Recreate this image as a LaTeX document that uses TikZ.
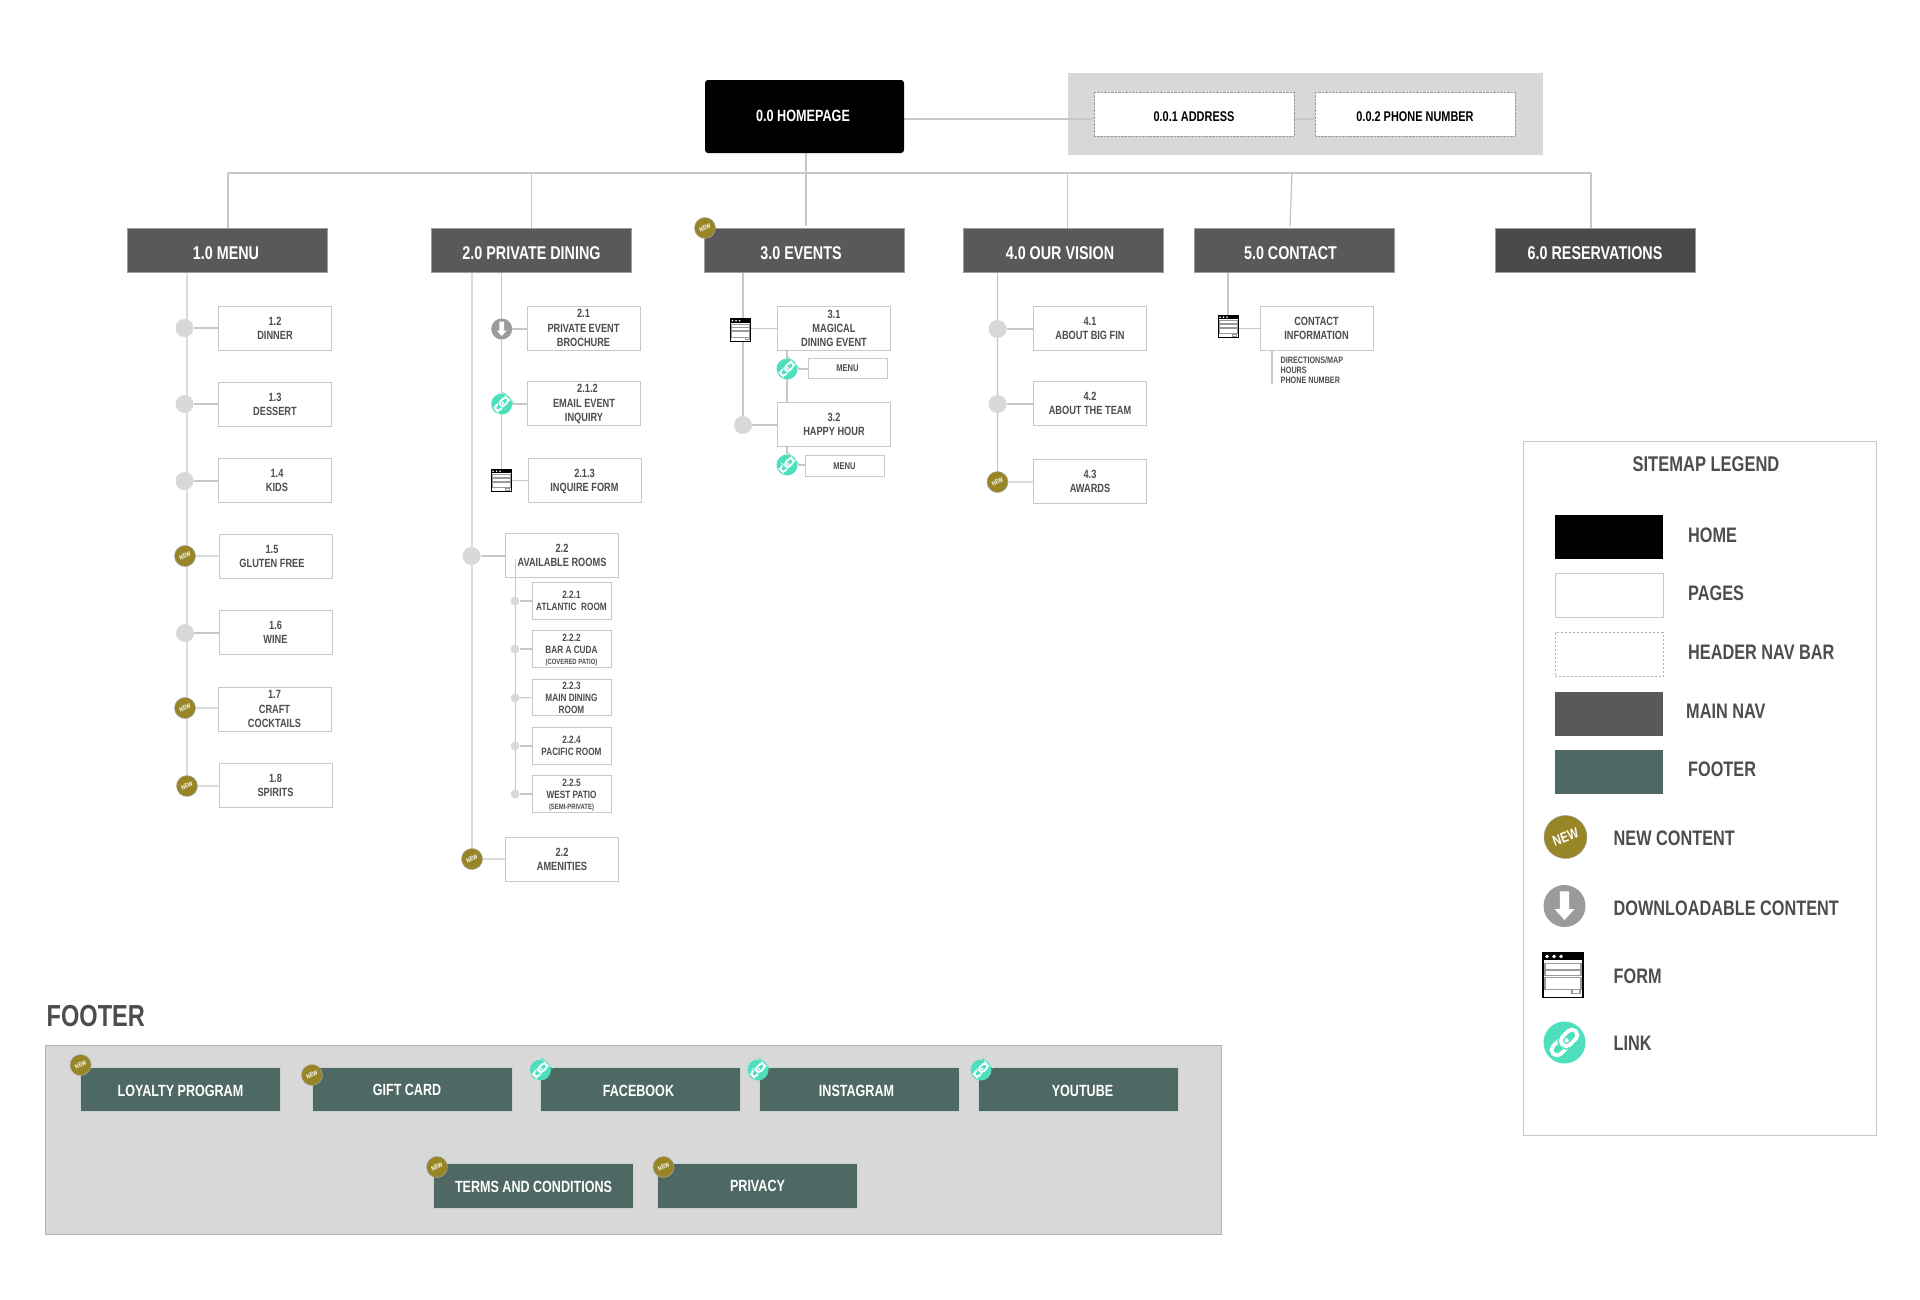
\documentclass[tikz,border=0pt]{standalone}
\usepackage[dvipsnames]{xcolor}
\usepackage{fontspec}
\setmainfont[FakeStretch=0.775]{Liberation Sans}
\usetikzlibrary{backgrounds}

\definecolor{linegray}{HTML}{C8C8C8}
\definecolor{bandgray}{HTML}{D8D8D8}
\definecolor{navgray}{HTML}{595959}
\definecolor{navdark}{HTML}{4A4A4A}
\definecolor{footgreen}{HTML}{4E6963}
\definecolor{newgold}{HTML}{978526}
\definecolor{linkteal}{HTML}{4EE0BE}
\definecolor{downgray}{HTML}{9B9B9B}
\definecolor{inkgray}{HTML}{4D4D4D}

\newcommand{\fsz}[2]{\fontsize{#1}{#2}\selectfont\bfseries}

\tikzset{
    conn/.style={every edge/.style={draw=linegray, line width=1.3}},
    pagebox/.style={rectangle, draw=linegray, fill=white, line width=1, minimum width=113, minimum height=44, inner sep=0, align=center, text=inkgray, font=\fsz{11.9}{14.2}, text depth=-6},
    roombox/.style={pagebox, minimum width=79, minimum height=36.5, font=\fsz{10.6}{12}, text depth=-5},
    menubox/.style={pagebox, minimum width=79, minimum height=20.5, font=\fsz{9.8}{10}, text depth=-2},
    navbox/.style={rectangle, fill=navgray, draw=linegray!60!navgray, line width=.6, text=white, minimum width=200, minimum height=44, inner sep=0, font=\fsz{18.5}{20}, execute at begin node={\rule{0pt}{18pt}}},
    addrbox/.style={rectangle, draw=black!40, densely dotted, fill=white, minimum width=200, minimum height=44, inner sep=0, font=\fsz{14.1}{16}, execute at begin node={\rule{0pt}{16pt}}},
    footbox/.style={rectangle, fill=footgreen, draw=white!70!footgreen, line width=.6, text=white, minimum width=200, minimum height=44.5, inner sep=0, font=\fsz{16.2}{18}, execute at begin node={\rule{0pt}{14pt}}},
    dotnode/.style={circle, fill=bandgray, minimum size=18, inner sep=0},
    smalldot/.style={circle, fill=bandgray, minimum size=8.8, inner sep=0},
    newbadge/.style={circle, fill=newgold, draw=black!35, line width=.5, text=white, minimum size=21, inner sep=0, rotate=25, font=\fsz{6.5}{7}},
    linkbadge/.style={circle, fill=linkteal, minimum size=#1, inner sep=0},
    downbadge/.style={circle, fill=downgray, minimum size=#1, inner sep=0},
    formicon/.style={rectangle, draw=black, fill=white, line width=#1/40*1.4pt, minimum width=#1, minimum height=1.13*#1, inner sep=0},
    legendtext/.style={anchor=west, text=inkgray, inner sep=0, font=\fsz{21}{24}},
    pics/linkglyph/.style={code={
        \begin{scope}[rotate=45]
            \draw[white, line width=#1*3.8pt, rounded corners=#1*5.5pt] (-16,-5.5) rectangle (3,5.5);
            \draw[linkteal, line width=#1*6.6pt, rounded corners=#1*5.5pt] (-3,-5.5) rectangle (16,5.5);
            \draw[white, line width=#1*3.8pt, rounded corners=#1*5.5pt] (-3,-5.5) rectangle (16,5.5);
        \end{scope}}},
    pics/downglyph/.style={code={
        \fill[white] (-4.7,-14.7) -- (4.7,-14.7) -- (4.7,3) -- (10,3) -- (0,14) -- (-10,3) -- (-4.7,3) -- cycle;}},
    pics/formglyph/.style={code={
        \fill[black] (-20,-22.6) rectangle (20,-14.6);
        \foreach \dotx in {-16,-9,-2} {\fill[white] (\dotx,-18.6) circle (1.9);}
        \draw[black!40, line width=#1*1.2pt] (-18,-11.9) rectangle (18,-5.9) (-18,-4.6) rectangle (18,.7) (-18,2.7) rectangle (18,14.1) (9,14.7) rectangle (17,18.7);}}
}

\begin{document}
\begin{tikzpicture}[x=1pt, y=-1pt]

    \useasboundingbox (0,0) rectangle (1920,1299);

    % grey bands go behind everything
    \begin{scope}[on background layer]
        \node[rectangle, fill=bandgray, minimum width=475, minimum height=82, inner sep=0] (band) at (1305.5,114) {};
        \node[rectangle, fill=bandgray, draw=black!30, line width=1, minimum width=1176, minimum height=189, inner sep=0] (footband) at (633,1139.5) {};
    \end{scope}

    % top row
    \node[rectangle, rounded corners=3, fill=black, text=white, minimum width=199, minimum height=73, inner sep=0, text depth=2, font=\fsz{16.3}{18}] (home) at (804.5,116.5) {0.0 HOMEPAGE\hspace*{3pt}};
    \node[addrbox] (a1) at (1194,114) {0.0.1 ADDRESS};
    \node[addrbox] (a2) at (1415,114) {0.0.2 PHONE NUMBER};
    \coordinate (r0) at (0,119);
    \coordinate (hl) at (228,173);
    \coordinate (hr) at (1591,173);

    \node[navbox] (n1) at (227,250.5) {1.0 MENU\hspace*{2pt}};
    \node[navbox] (n2) at (531.5,250.5) {2.0 PRIVATE DINING};
    \node[navbox] (n3) at (804.5,250.5) {3.0 EVENTS\hspace*{7pt}};
    \node[navbox] (n4) at (1063.5,250.5) {4.0 OUR VISION\hspace*{7pt}};
    \node[navbox] (n5) at (1294,250.5) {5.0 CONTACT\hspace*{7pt}};
    \node[navbox, fill=navdark] (n6) at (1595,250.5) {6.0 RESERVATIONS};
    \node[newbadge] (b3) at (705,228) {NEW};

    % 1.0 column
    \node[pagebox] (p12) at (275,328) {1.2\\DINNER};
    \node[pagebox] (p13) at (275,404) {1.3\\DESSERT};
    \node[pagebox] (p14) at (275,480) {\hspace*{4pt}1.4\\\hspace*{4pt}KIDS};
    \node[pagebox] (p15) at (275.5,556) {1.5\hspace*{7pt}\\GLUTEN FREE\hspace*{7pt}};
    \node[pagebox] (p16) at (275.5,632) {1.6\\WINE};
    \node[pagebox] (p17) at (274.5,709) {1.7\\CRAFT\\COCKTAILS};
    \node[pagebox] (p18) at (275.5,785) {1.8\\SPIRITS};
    \node[dotnode] (c12) at (184.5,328) {};
    \node[dotnode] (c13) at (184.5,404) {};
    \node[dotnode] (c14) at (184.5,481) {};
    \node[newbadge] (b15) at (185,556) {NEW};
    \node[dotnode] (c16) at (185,633) {};
    \node[newbadge] (b17) at (185,708) {NEW};
    \node[newbadge] (b18) at (187,786) {NEW};

    % 2.0 column
    \node[pagebox] (p21) at (583.5,328) {2.1\\PRIVATE EVENT\\BROCHURE};
    \node[pagebox] (p212) at (584,403) {\hspace*{7pt}2.1.2\\EMAIL EVENT\\INQUIRY};
    \node[pagebox] (p213) at (584.5,480.5) {2.1.3\\INQUIRE FORM};
    \node[pagebox] (p22) at (562,555) {2.2\\AVAILABLE ROOMS};
    \node[pagebox] (p23) at (562,859) {2.2\\AMENITIES};
    \node[downbadge=21] (d21) at (501.7,329) {};
    \node[linkbadge=21] (l212) at (501.7,404) {};
    \node[formicon=20] (f213) at (501,480.5) {};
    \node[dotnode] (c22) at (471.5,556) {};
    \node[newbadge] (b23) at (472,859) {NEW};

    % rooms hang off a line that starts inside the 2.2 box
    \coordinate (t22) at (515.5,559);
    \coordinate (e22) at (515.5,794);
    \draw[draw=linegray, line width=1.3] (t22) -- (e22);
    \node[roombox] (p221) at (571.5,601) {2.2.1\\ATLANTIC\ \ ROOM};
    \node[roombox] (p222) at (571.5,649) {2.2.2\\BAR A CUDA\\[-1pt]{\fsz{7.6}{7}(COVERED PATIO)}};
    \node[roombox] (p223) at (571.5,697.5) {2.2.3\\MAIN DINING\\ROOM};
    \node[roombox] (p224) at (571.5,746) {2.2.4\\PACIFIC ROOM};
    \node[roombox] (p225) at (571.5,794) {2.2.5\\WEST PATIO\\[-1pt]{\fsz{7.6}{7}(SEMI-PRIVATE)}};
    \node[smalldot] (c221) at (515,601) {};
    \node[smalldot] (c222) at (515,649) {};
    \node[smalldot] (c223) at (515,698) {};
    \node[smalldot] (c224) at (515,746) {};
    \node[smalldot] (c225) at (515,794) {};

    % 3.0 column
    \node[pagebox] (p31) at (834,328.5) {3.1\\MAGICAL\\DINING EVENT};
    \node[pagebox] (p32) at (834,424) {3.2\\HAPPY HOUR};
    \node[menubox] (m31) at (847.5,368.5) {MENU};
    \node[menubox] (m32) at (844.5,466) {MENU};
    \node[formicon=20] (f31) at (740.5,330) {};
    \node[dotnode] (c32) at (743,425) {};
    \node[linkbadge=21] (l31) at (787,369) {};
    \node[linkbadge=21] (l32) at (787,465) {};

    % 4.0 column
    \node[pagebox] (p41) at (1090,328.5) {4.1\\ABOUT BIG FIN};
    \node[pagebox] (p42) at (1090,403) {4.2\\ABOUT THE TEAM};
    \node[pagebox] (p43) at (1090,481) {4.3\\AWARDS};
    \node[dotnode] (c41) at (997.5,329) {};
    \node[dotnode] (c42) at (997.5,404) {};
    \node[newbadge] (b43) at (997.5,482) {NEW};

    % 5.0 column
    \node[pagebox] (p51) at (1316.5,328.5) {CONTACT\\INFORMATION};
    \node[formicon=20] (f51) at (1228,326.5) {};
    \node[anchor=west, inner sep=0, align=left, text=inkgray, font=\fsz{9.3}{10.3}] (i51) at (1280.5,370) {DIRECTIONS/MAP\\HOURS\\PHONE NUMBER};
    \coordinate (e51) at (1272,384);

    % legend
    \node[rectangle, draw=linegray, line width=.9, minimum width=353, minimum height=694, inner sep=0] (legend) at (1699.5,788) {};
    \node[text=inkgray, inner sep=0, font=\fsz{21.3}{23}] (legtitle) at (1706,464) {SITEMAP LEGEND};
    \node[rectangle, fill=black, minimum width=108, minimum height=44, inner sep=0] (s1) at (1609,536.5) {};
    \node[rectangle, draw=linegray, line width=1, minimum width=108, minimum height=44, inner sep=0] (s2) at (1609,595.5) {};
    \node[rectangle, draw=black!30, dash pattern=on 2pt off 2pt, line width=.8, minimum width=108, minimum height=44, inner sep=0] (s3) at (1609,654.5) {};
    \node[rectangle, fill=navgray, minimum width=108, minimum height=44, inner sep=0] (s4) at (1609,713.5) {};
    \node[rectangle, fill=footgreen, minimum width=108, minimum height=44, inner sep=0] (s5) at (1609,771.5) {};
    \node[legendtext] (t1) at (1688,535) {HOME};
    \node[legendtext] (t2) at (1688,593) {PAGES};
    \node[legendtext] (t3) at (1688,652.5) {HEADER NAV BAR};
    \node[legendtext] (t4) at (1686,711.5) {MAIN NAV};
    \node[legendtext] (t5) at (1688,769) {FOOTER};
    \node[newbadge, minimum size=43, rotate=-5, font=\fsz{14.5}{15}] (leg6) at (1565.5,837) {NEW};
    \node[downbadge=42] (leg7) at (1564.5,906) {};
    \node[formicon=40] (leg8) at (1563,975) {};
    \node[linkbadge=42] (leg9) at (1564.5,1042.5) {};
    \node[legendtext] (t6) at (1613.5,838.5) {NEW CONTENT};
    \node[legendtext] (t7) at (1613.5,908.5) {DOWNLOADABLE CONTENT};
    \node[legendtext] (t8) at (1613.5,976.5) {FORM};
    \node[legendtext] (t9) at (1613.5,1043) {LINK};

    % footer
    \node[anchor=west, inner sep=0, text=inkgray, font=\fsz{30.4}{32}] (foottitle) at (46.5,1016) {FOOTER};
    \node[footbox] (g1) at (180.5,1089.5) {LOYALTY PROGRAM};
    \node[footbox, execute at begin node={}, text depth=3] (g2) at (412,1089.5) {GIFT CARD\hspace*{10pt}};
    \node[footbox] (g3) at (640,1089.5) {FACEBOOK\hspace*{3pt}};
    \node[footbox] (g4) at (859,1089.5) {INSTAGRAM\hspace*{5pt}};
    \node[footbox] (g5) at (1078,1089.5) {\hspace*{9pt}YOUTUBE};
    \node[footbox, execute at begin node={\rule{0pt}{12pt}}] (g6) at (533.5,1186) {TERMS AND CONDITIONS};
    \node[footbox, execute at begin node={}, text depth=3] (g7) at (757.5,1186) {PRIVACY};
    \node[newbadge] (gb1) at (80.6,1065) {NEW};
    \node[newbadge] (gb2) at (312,1075) {NEW};
    \node[linkbadge=21] (gb3) at (540.4,1070) {};
    \node[linkbadge=21] (gb4) at (758,1070) {};
    \node[linkbadge=21] (gb5) at (981,1070) {};
    \node[newbadge] (gb6) at (437,1167) {NEW};
    \node[newbadge] (gb7) at (663.6,1167) {NEW};

    % icon insides
    \foreach \icon/\sz in {l212/.5, l31/.5, l32/.5, gb3/.5, gb4/.5, gb5/.5, leg9/1}
        \pic[scale=\sz] at (\icon) {linkglyph=\sz};
    \foreach \icon/\sz in {d21/.5, leg7/1}
        \pic[scale=\sz] at (\icon) {downglyph};
    \foreach \icon/\sz in {f213/.5, f31/.5, f51/.5, leg8/1}
        \pic[scale=\sz] at (\icon) {formglyph=\sz};

    % connectors
    \begin{scope}[on background layer]
        \path[conn]
            (home.east |- r0) edge (a1.west |- r0)
            (a1.east |- r0) edge (a2.west |- r0)
            (hl) edge (hr)
            (hl) edge (n1.north -| hl)
            (hr) edge (n6.north -| hr)
            (n2.north |- hl) edge (n2.north)
            ([xshift=1.5]home.south) edge ([xshift=1.5,yshift=2]n3.north)
            ([xshift=4]n4.north |- hl) edge ([xshift=4]n4.north)
            ([xshift=-2]n5.north |- hl) edge ([xshift=-4,yshift=2]n5.north)

            (n1.south -| b18) edge (b18)
            (c12) edge (p12.west |- c12)
            (c13) edge (p13.west |- c13)
            (c14) edge (p14.west |- c14)
            (b15) edge (p15.west |- b15)
            (c16) edge (p16.west |- c16)
            (b17) edge (p17.west |- b17)
            (b18) edge (p18.west |- b18)

            (n2.south -| b23) edge (b23)
            (n2.south -| d21) edge (f213.north -| d21)
            (d21) edge (p21.west |- d21)
            (l212) edge (p212.west |- l212)
            (f213) edge (p213.west |- f213)
            (c22) edge (p22.west |- c22)
            (b23) edge (p23.west |- b23)
            (c221) edge (p221.west)
            (c222) edge (p222.west)
            (c223) edge (p223.west)
            (c224) edge (p224.west)
            (c225) edge (p225.west)

            (n3.south -| c32) edge (c32)
            (f31.east |- p31.west) edge (p31.west)
            (c32) edge (p32.west |- c32)
            (l31 |- p31.south) edge (l31 |- p32.north)
            (l31) edge (m31.west |- l31)
            (l32 |- p32.south) edge (l32)
            (l32) edge (m32.west |- l32)

            (n4.south -| c41) edge (b43)
            (c41) edge (p41.west |- c41)
            (c42) edge (p42.west |- c42)
            (b43) edge (p43.west |- b43)

            (n5.south -| f51) edge (f51)
            (f51.east |- p51.west) edge (p51.west)
            (e51 |- p51.south) edge (e51)
            ;
    \end{scope}

\end{tikzpicture}
\end{document}
